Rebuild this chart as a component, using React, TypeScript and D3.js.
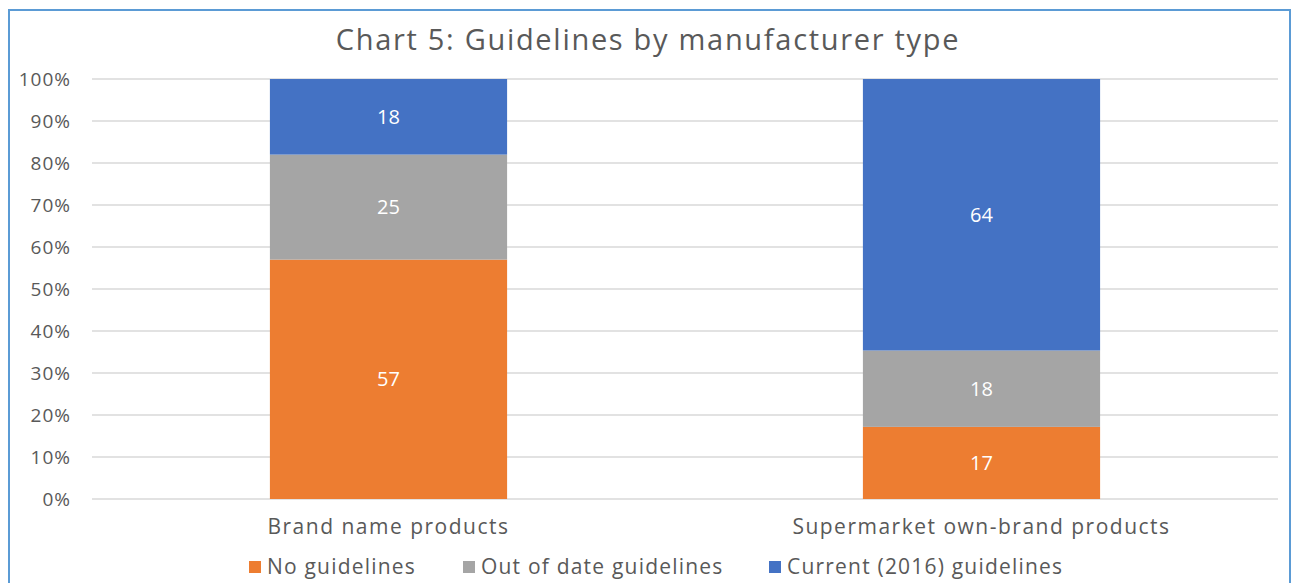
import React from 'react';
import * as d3 from 'd3';

const categories = ['Brand name products', 'Supermarket own-brand products'];
const seriesNames = ['No guidelines', 'Out of date guidelines', 'Current (2016) guidelines'];
const noGuidelines = [57, 17];
const outOfDate = [25, 18];
const current = [18, 64];
const colors = ['#ed7d31', '#a5a5a5', '#4472c4'];
const yTicks = [0, 0.1, 0.2, 0.3, 0.4, 0.5, 0.6, 0.7, 0.8, 0.9, 1];

const W = 1293;
const H = 583;
const font = '"Open Sans", sans-serif';

const App = () => {
    const margin = { left: 92, right: 15, top: 79, bottom: 84 };
    const x = d3.scaleBand<string>()
        .domain(categories)
        .range([margin.left, W - margin.right]);
    const barW = x.bandwidth() * 0.4;
    const y = d3.scaleLinear().domain([0, 1]).range([H - margin.bottom, margin.top]);

    // percent stacked, so normalise each column to 100
    const rows = categories.map((c, i) => {
        const total = noGuidelines[i] + outOfDate[i] + current[i];
        return {
            cat: c,
            s0: noGuidelines[i] / total,
            s1: outOfDate[i] / total,
            s2: current[i] / total,
            v0: noGuidelines[i],
            v1: outOfDate[i],
            v2: current[i],
        };
    });
    const stack = d3.stack<any>().keys(['s0', 's1', 's2'])(rows);

    const legendX = [249, 463, 769];

    return (
        <svg width={W} height={H} style={{ position: 'absolute', left: 0, top: 0 }}>
            <rect x={0} y={0} width={W} height={H} fill="#fff" />
            <rect x={9} y={10} width={1281} height={H + 20} fill="none" stroke="#5b9bd5" strokeWidth={2} />
            <text x={648} y={50} textAnchor="middle" fontFamily={font} fontSize={29} letterSpacing={1.7} fill="#595959">
                Chart 5: Guidelines by manufacturer type
            </text>
            {yTicks.map(t => (
                <g key={t}>
                    <line x1={margin.left} x2={W - margin.right} y1={y(t)} y2={y(t)} stroke="#d9d9d9" strokeWidth={1.5} />
                    <text x={71} y={y(t) + 7} textAnchor="end" fontFamily={font} fontSize={19} letterSpacing={1} fill="#595959">
                        {d3.format('.0%')(t)}
                    </text>
                </g>
            ))}
            {stack.map((layer, li) => (
                <g key={li}>
                    {layer.map((d, i) => {
                        const cx = x(d.data.cat)! + x.bandwidth() / 2;
                        const val = d.data['v' + li];
                        return (
                            <g key={i}>
                                <rect x={cx - barW / 2} y={y(d[1])} width={barW} height={y(d[0]) - y(d[1])} fill={colors[li]} />
                                <text x={cx} y={(y(d[0]) + y(d[1])) / 2 + 7} textAnchor="middle" fontFamily={font} fontSize={20} fill="#fff">
                                    {val}
                                </text>
                            </g>
                        );
                    })}
                </g>
            ))}
            {categories.map(c => (
                <text key={c} x={x(c)! + x.bandwidth() / 2} y={534} textAnchor="middle" fontFamily={font} fontSize={21} letterSpacing={1.5} fill="#595959">
                    {c}
                </text>
            ))}
            {seriesNames.map((s, i) => (
                <g key={s}>
                    <rect x={legendX[i]} y={561} width={12} height={12} fill={colors[i]} />
                    <text x={legendX[i] + 18} y={574} fontFamily={font} fontSize={21} letterSpacing={1.2} fill="#595959">{s}</text>
                </g>
            ))}
        </svg>
    );
};

export default App;
